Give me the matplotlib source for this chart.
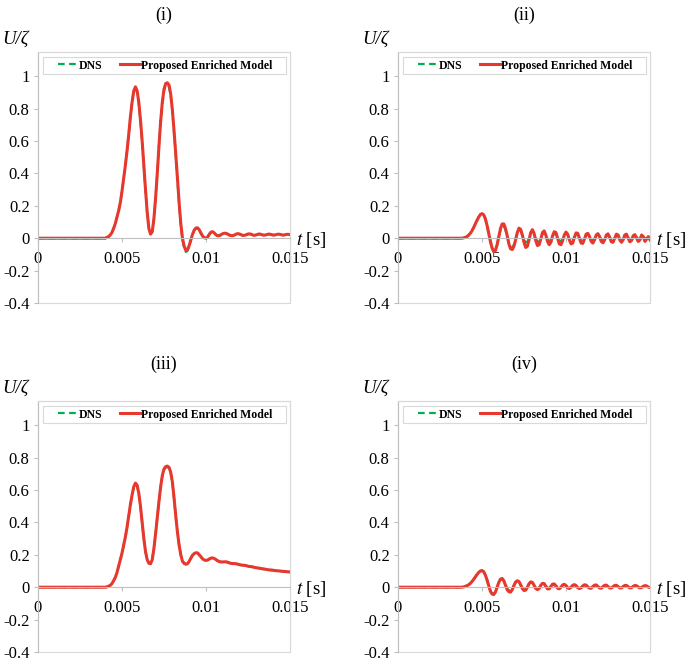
import matplotlib
matplotlib.use("Agg")
import matplotlib.pyplot as plt
from matplotlib.patches import Rectangle

plt.rcParams['font.family'] = ['Liberation Serif', 'DejaVu Serif']
plt.rcParams['mathtext.fontset'] = 'stix'
plt.rcParams['axes.unicode_minus'] = False

# time grid [s]
t = [0.0, 0.001, 0.002, 0.003] + [round(k * 1e-4, 4) for k in range(36, 151)]

x_ticks = [0, 0.005, 0.01, 0.015]
x_labels = ['0', '0.005', '0.01', '0.015']
y_ticks = [-0.4, -0.2, 0, 0.2, 0.4, 0.6, 0.8, 1]
y_labels = ['-0.4', '-0.2', '0', '0.2', '0.4', '0.6', '0.8', '1']
titles = ['(i)', '(ii)', '(iii)', '(iv)']

# panel (i)
model_1 = [0, 0, 0, 0,
           0, 0, 0, 0,
           0.0, 0.005, 0.01, 0.02, 0.035, 0.06, 0.09, 0.13, 0.17, 0.22,
           0.29, 0.37, 0.45, 0.54, 0.64, 0.75, 0.84, 0.91, 0.935, 0.91,
           0.84, 0.73, 0.60, 0.45, 0.30, 0.16, 0.06, 0.025, 0.04, 0.12,
           0.25, 0.40, 0.57, 0.72, 0.84, 0.92, 0.955, 0.96, 0.945, 0.89,
           0.79, 0.66, 0.52, 0.37, 0.22, 0.09, 0.0, -0.05, -0.075, -0.07,
           -0.045, -0.01, 0.025, 0.05, 0.063, 0.064, 0.052, 0.032, 0.013, 0.003,
           0.0, 0.008, 0.025, 0.038, 0.04, 0.032, 0.02, 0.015, 0.016, 0.022,
           0.028, 0.031, 0.03, 0.025, 0.019, 0.016, 0.016, 0.02, 0.026, 0.028,
           0.026, 0.021, 0.017, 0.018, 0.022, 0.026, 0.027, 0.024, 0.019, 0.018,
           0.021, 0.025, 0.026, 0.023, 0.019, 0.019, 0.022, 0.025, 0.025, 0.022,
           0.019, 0.02, 0.023, 0.025, 0.024, 0.021, 0.019, 0.021, 0.024, 0.024,
           0.022]
dns_1 = [0, 0, 0, 0,
         0, 0, 0, 0,
         0.0, 0.005, 0.01, 0.02, 0.035, 0.06, 0.09, 0.13, 0.17, 0.22,
         0.29, 0.37, 0.45, 0.54, 0.64, 0.75, 0.84, 0.905, 0.925, 0.90,
         0.83, 0.72, 0.59, 0.44, 0.29, 0.155, 0.06, 0.028, 0.045, 0.12,
         0.25, 0.40, 0.57, 0.72, 0.83, 0.91, 0.945, 0.95, 0.935, 0.88,
         0.78, 0.65, 0.51, 0.36, 0.21, 0.08, -0.01, -0.06, -0.085, -0.078,
         -0.05, -0.012, 0.024, 0.05, 0.062, 0.062, 0.05, 0.03, 0.012, 0.003,
         0.001, 0.01, 0.026, 0.037, 0.038, 0.031, 0.021, 0.016, 0.017, 0.022,
         0.027, 0.03, 0.029, 0.024, 0.02, 0.017, 0.017, 0.021, 0.025, 0.027,
         0.025, 0.021, 0.018, 0.019, 0.022, 0.025, 0.026, 0.023, 0.02, 0.019,
         0.021, 0.024, 0.025, 0.022, 0.02, 0.02, 0.022, 0.024, 0.024, 0.022,
         0.02, 0.021, 0.023, 0.024, 0.023, 0.021, 0.02, 0.021, 0.023, 0.023,
         0.022]

# panel (ii)
model_2 = [0, 0, 0, 0,
           0, 0, 0, 0.002,
           0.005, 0.01, 0.018, 0.03, 0.045, 0.065, 0.088, 0.11, 0.13, 0.146,
           0.152, 0.145, 0.12, 0.08, 0.03, -0.02, -0.06, -0.082, -0.075, -0.04,
           0.01, 0.06, 0.088, 0.088, 0.06, 0.015, -0.035, -0.065, -0.07, -0.05,
           -0.01, 0.035, 0.062, 0.055, 0.02, -0.025, -0.057, -0.05, -0.01, 0.035,
           0.053, 0.03, -0.015, -0.045, -0.04, -0.005, 0.035, 0.045, 0.02, -0.02,
           -0.04, -0.025, 0.015, 0.04, 0.035, 0.0, -0.035, -0.04, -0.015, 0.02,
           0.038, 0.025, -0.01, -0.035, -0.03, 0.005, 0.033, 0.03, 0.0, -0.03,
           -0.032, -0.005, 0.025, 0.03, 0.01, -0.02, -0.03, -0.01, 0.02, 0.028,
           0.01, -0.02, -0.028, -0.01, 0.02, 0.027, 0.005, -0.022, -0.025, 0.0,
           0.025, 0.02, -0.01, -0.025, -0.01, 0.02, 0.025, 0.0, -0.022, -0.015,
           0.015, 0.022, 0.0, -0.02, -0.01, 0.02, 0.01, -0.02, -0.005, 0.01,
           -0.01]
dns_2 = [0, 0, 0, 0,
         0, 0, 0, 0.002,
         0.005, 0.01, 0.018, 0.03, 0.045, 0.065, 0.088, 0.11, 0.13, 0.146,
         0.152, 0.145, 0.12, 0.08, 0.03, -0.02, -0.062, -0.085, -0.078, -0.042,
         0.005, 0.05, 0.075, 0.075, 0.05, 0.01, -0.03, -0.055, -0.058, -0.04,
         -0.005, 0.03, 0.05, 0.045, 0.02, -0.01, -0.025, -0.022, 0.0, 0.03,
         0.042, 0.03, 0.0, -0.02, -0.018, 0.0, 0.025, 0.035, 0.02, -0.005,
         -0.018, -0.012, 0.01, 0.03, 0.028, 0.005, -0.015, -0.018, -0.005, 0.018,
         0.03, 0.02, -0.003, -0.016, -0.012, 0.008, 0.025, 0.024, 0.004, -0.014,
         -0.014, 0.002, 0.02, 0.024, 0.008, -0.01, -0.014, -0.003, 0.016, 0.022,
         0.01, -0.008, -0.013, -0.002, 0.015, 0.02, 0.008, -0.008, -0.012, 0.0,
         0.016, 0.018, 0.004, -0.01, -0.008, 0.008, 0.018, 0.01, -0.006, -0.01,
         0.004, 0.016, 0.01, -0.005, -0.008, 0.006, 0.012, 0.002, -0.006, 0.0,
         0.005]

# panel (iii)
model_3 = [0, 0, 0, 0,
           0, 0, 0, 0,
           0.0, 0.002, 0.006, 0.012, 0.022, 0.04, 0.06, 0.09, 0.13, 0.17,
           0.21, 0.26, 0.31, 0.37, 0.44, 0.51, 0.57, 0.62, 0.643, 0.63,
           0.58, 0.50, 0.40, 0.30, 0.22, 0.17, 0.148, 0.145, 0.17, 0.24,
           0.33, 0.43, 0.53, 0.62, 0.69, 0.73, 0.745, 0.748, 0.74, 0.71,
           0.65, 0.55, 0.44, 0.34, 0.26, 0.20, 0.16, 0.148, 0.143, 0.145,
           0.16, 0.18, 0.198, 0.208, 0.213, 0.212, 0.2, 0.188, 0.175, 0.168,
           0.166, 0.168, 0.175, 0.18, 0.181, 0.177, 0.17, 0.163, 0.158, 0.156,
           0.156, 0.157, 0.157, 0.154, 0.15, 0.147, 0.146, 0.146, 0.145, 0.142,
           0.139, 0.137, 0.136, 0.135, 0.133, 0.13, 0.128, 0.127, 0.125, 0.122,
           0.12, 0.119, 0.117, 0.115, 0.113, 0.112, 0.11, 0.108, 0.107, 0.106,
           0.105, 0.103, 0.102, 0.101, 0.1, 0.099, 0.098, 0.097, 0.096, 0.095,
           0.094]
dns_3 = [0, 0, 0, 0,
         0, 0, 0, 0,
         0.0, 0.002, 0.006, 0.012, 0.022, 0.04, 0.06, 0.09, 0.13, 0.17,
         0.21, 0.26, 0.31, 0.37, 0.44, 0.51, 0.57, 0.615, 0.638, 0.625,
         0.575, 0.495, 0.40, 0.30, 0.22, 0.17, 0.15, 0.148, 0.172, 0.24,
         0.33, 0.43, 0.53, 0.62, 0.685, 0.725, 0.74, 0.742, 0.735, 0.705,
         0.645, 0.545, 0.44, 0.34, 0.26, 0.20, 0.16, 0.146, 0.141, 0.144,
         0.16, 0.18, 0.197, 0.207, 0.211, 0.21, 0.199, 0.187, 0.175, 0.168,
         0.166, 0.168, 0.174, 0.179, 0.18, 0.176, 0.17, 0.163, 0.158, 0.156,
         0.156, 0.157, 0.156, 0.153, 0.15, 0.147, 0.146, 0.146, 0.144, 0.142,
         0.139, 0.137, 0.136, 0.134, 0.132, 0.13, 0.128, 0.126, 0.124, 0.122,
         0.12, 0.118, 0.117, 0.115, 0.113, 0.111, 0.11, 0.108, 0.107, 0.105,
         0.104, 0.103, 0.102, 0.1, 0.099, 0.098, 0.097, 0.096, 0.095, 0.094,
         0.093]

# panel (iv)
model_4 = [0, 0, 0, 0,
           0, 0, 0, 0.002,
           0.005, 0.009, 0.015, 0.023, 0.035, 0.048, 0.063, 0.078, 0.091, 0.1,
           0.103, 0.096, 0.075, 0.045, 0.01, -0.025, -0.042, -0.045, -0.03, 0.0,
           0.03, 0.05, 0.054, 0.04, 0.012, -0.015, -0.028, -0.03, -0.015, 0.01,
           0.032, 0.04, 0.035, 0.015, -0.008, -0.02, -0.018, 0.0, 0.022, 0.033,
           0.03, 0.012, -0.008, -0.015, -0.008, 0.012, 0.024, 0.022, 0.005, -0.01,
           -0.01, 0.005, 0.019, 0.02, 0.008, -0.006, -0.01, 0.0, 0.014, 0.018,
           0.01, -0.004, -0.008, 0.0, 0.012, 0.016, 0.01, -0.003, -0.008, -0.004,
           0.008, 0.015, 0.013, 0.002, -0.006, -0.006, 0.004, 0.013, 0.014, 0.005,
           -0.005, -0.006, 0.003, 0.012, 0.013, 0.004, -0.004, -0.005, 0.003, 0.011,
           0.012, 0.004, -0.004, -0.004, 0.004, 0.011, 0.011, 0.003, -0.004, -0.003,
           0.005, 0.011, 0.009, 0.001, -0.004, -0.002, 0.006, 0.01, 0.008, 0.0,
           -0.002]
dns_4 = [0, 0, 0, 0,
         0, 0, 0, 0.002,
         0.005, 0.009, 0.015, 0.023, 0.035, 0.048, 0.063, 0.078, 0.091, 0.1,
         0.103, 0.096, 0.075, 0.045, 0.01, -0.022, -0.04, -0.042, -0.028, 0.0,
         0.028, 0.046, 0.05, 0.038, 0.014, -0.008, -0.02, -0.02, -0.008, 0.012,
         0.03, 0.036, 0.03, 0.014, -0.002, -0.01, -0.008, 0.004, 0.02, 0.028,
         0.026, 0.012, -0.002, -0.008, -0.003, 0.01, 0.02, 0.019, 0.007, -0.004,
         -0.004, 0.006, 0.016, 0.017, 0.008, -0.002, -0.004, 0.002, 0.012, 0.015,
         0.01, 0.0, -0.003, 0.002, 0.01, 0.013, 0.009, 0.0, -0.003, -0.001,
         0.007, 0.012, 0.011, 0.003, -0.002, -0.002, 0.004, 0.01, 0.011, 0.005,
         -0.001, -0.002, 0.003, 0.009, 0.01, 0.004, -0.001, -0.002, 0.003, 0.008,
         0.009, 0.004, -0.001, -0.001, 0.004, 0.008, 0.008, 0.003, -0.001, 0.0,
         0.004, 0.008, 0.007, 0.002, -0.001, 0.0, 0.004, 0.007, 0.006, 0.001,
         0.0]

dns_all = [dns_1, dns_2, dns_3, dns_4]
model_all = [model_1, model_2, model_3, model_4]

red = '#E8372C'
green = '#00B050'
axis_grey = '#BFBFBF'
border_grey = '#D9D9D9'

fig = plt.figure(figsize=(6.85, 6.61), dpi=100)
W, H = 685, 661
lefts = [38, 398, 38, 398]
tops = [52, 52, 401, 401]
aw, ah = 252, 251

for i in range(4):
    ax = fig.add_axes([lefts[i] / W, (H - tops[i] - ah) / H, aw / W, ah / H])
    l1, = ax.plot(t, dns_all[i], color=green, lw=1.6, dashes=(3, 2), label='DNS')
    l2, = ax.plot(t, model_all[i], color=red, lw=2.2, label='Proposed Enriched Model')

    ax.set_xlim(0, 0.015)
    ax.set_ylim(-0.4, 1.15)
    ax.set_xticks(x_ticks)
    ax.set_xticklabels(x_labels)
    ax.set_yticks(y_ticks)
    ax.set_yticklabels(y_labels)

    ax.spines['bottom'].set_position(('data', 0))
    ax.spines['bottom'].set_color(axis_grey)
    ax.spines['left'].set_color(axis_grey)
    ax.spines['top'].set_color(border_grey)
    ax.spines['right'].set_color(border_grey)
    for s in ax.spines.values():
        s.set_linewidth(0.8)
    ax.add_patch(Rectangle((0, 0), 1, 1, transform=ax.transAxes, fill=False,
                           ec=border_grey, lw=0.8, clip_on=False, zorder=0))
    ax.tick_params(axis='both', direction='out', length=3, width=0.8,
                   color=axis_grey, labelsize=12)
    ax.tick_params(axis='x', pad=6.5)
    ax.tick_params(axis='y', pad=3)

    ax.text(0.5, 1.147, titles[i], transform=ax.transAxes, ha='center',
            va='center', fontsize=13)
    ax.text(-0.089, 1.05, 'U/ζ', transform=ax.transAxes, ha='center',
            va='center', fontsize=13.5, fontstyle='italic')
    ax.text(1.022, -0.012, '$t$ [s]', transform=ax.get_yaxis_transform(),
            ha='left', va='center', fontsize=13.5)

    # legend frame drawn separately so entries stay centred like the original
    ax.add_patch(Rectangle((0.02, 0.912), 0.964, 0.068, transform=ax.transAxes,
                           fill=True, fc='white', ec=border_grey, lw=0.8,
                           zorder=4))
    leg = ax.legend(handles=[l1, l2], loc='center', ncol=2,
                    bbox_to_anchor=(0.505, 0.946),
                    prop={'weight': 'bold', 'size': 8.5}, frameon=False,
                    handlelength=1.7, handletextpad=0.05, columnspacing=1.5,
                    borderpad=0.1, borderaxespad=0)
    leg.set_zorder(5)

fig.savefig('out.png', dpi=100)
